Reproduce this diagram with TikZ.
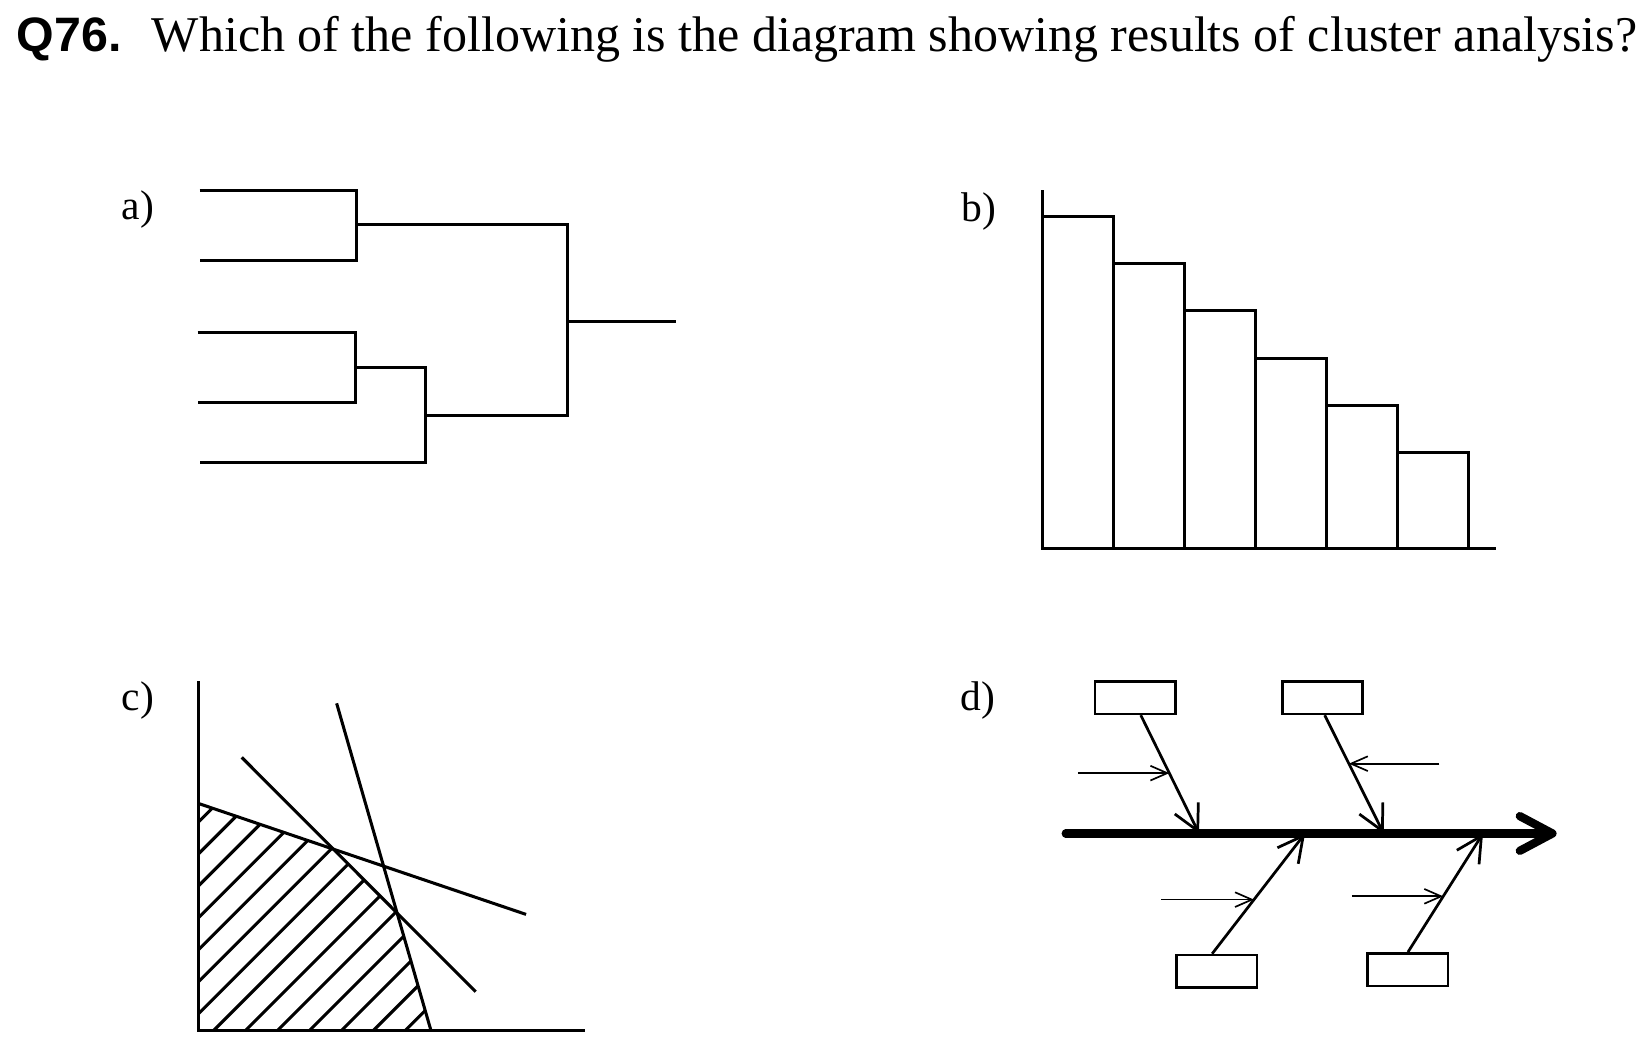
\documentclass[tikz,border=0pt]{standalone}
\usepackage{fontspec}
\setmainfont{Liberation Serif}
\setsansfont{Liberation Sans}
\usetikzlibrary{arrows.meta,calc}
\tikzset{
  ln/.style={line width=2.9pt},
  box/.style={draw,line width=2.5pt,minimum width=76.5pt,minimum height=31pt,inner sep=0pt},
  bone/.style={line width=2.6pt,-{Straight Barb[length=24pt,width=25pt]}},
  twig/.style={line width=1.6pt,-{Straight Barb[length=16pt,width=14pt]}},
  spine/.style={line width=7.9pt,line cap=round,-{Straight Barb[length=31pt,width=33pt,round]}},
  lbl/.style={anchor=base west,inner sep=0pt,font=\fontsize{39.5}{44}\selectfont},
}

\begin{document}
\begin{tikzpicture}[x=1pt,y=-1pt]
  \useasboundingbox (0,0) rectangle (1568,998);
  \node[anchor=base west,inner sep=0pt,font=\fontsize{46}{50}\selectfont\sffamily\bfseries] (qnum) at (15.9,49.2) {Q76.};
  \node[anchor=base west,inner sep=0pt,font=\fontsize{47.6}{50}\selectfont] (qtext) at (144.3,49.2) {Which of the following is the diagram showing results of cluster analysis?};

  \node[lbl] (la) at (115.8,209.3) {a)};
  \node[lbl] (lb) at (915,211) {b)};
  \node[lbl] (lc) at (115.8,675.6) {c)};
  \node[lbl] (ld) at (914,675.6) {d)};

  \draw[ln] (190,181) -| (339,248) -- (190,248);
  \draw[ln] (188,316) -| (338,383) -- (188,383);
  \draw[ln] (338,350) -| (405,440) -- (190,440);
  \draw[ln] (339,214) -| (540,395) -- (405,395);
  \draw[ln] (540,306) -- (643,306);

  \draw[ln] (992,181) -- (992,522) -- (1423,522);
  \foreach \i in {0,...,5}
    \draw[ln] ({992+67.6*\i},522) rectangle ({992+67.6*(\i+1)},{206+44.9*\i});

  \coordinate (o) at (188.7,980.7);
  \coordinate (l1a) at (188.7,764.4);
  \coordinate (l1b) at (500.5,870);
  \coordinate (l2a) at (230,720.6);
  \coordinate (l2b) at (452.6,943.6);
  \coordinate (l3a) at (320.3,669.2);
  \coordinate (l3b) at (410.1,980.7);
  \coordinate (p12) at (intersection of l1a--l1b and l2a--l2b);
  \coordinate (p23) at (intersection of l2a--l2b and l3a--l3b);
  \begin{scope}
    \clip (o) -- (l1a) -- (p12) -- (p23) -- (l3b) -- cycle;
    \foreach \k in {-8,...,8}
      \draw[ln] ({1183.7+30.4*\k-1000},1000) -- ({1183.7+30.4*\k-700},700);
  \end{scope}
  \draw[ln] (188.7,648) -- (o) -- (556.6,980.7);
  \draw[ln] (l1a) -- (l1b);
  \draw[ln] (l2a) -- (l2b);
  \draw[ln] (l3a) -- (l3b);

  \node[box] (c1) at (1080,663.7) {};
  \node[box] (c2) at (1258.2,663.7) {};
  \node[box] (c3) at (1157.8,924.2) {};
  \node[box] (c4) at (1339.4,922.6) {};
  \coordinate (tail) at (1014,793);
  \coordinate (head) at (1481,793);
  \coordinate (s1) at (1140.8,793);
  \coordinate (s2) at (1316.5,793);
  \coordinate (s3) at (1241.7,793);
  \coordinate (s4) at (1411,793);
  \coordinate (t1) at ($(c1.south)+(5.4,0)$);
  \coordinate (t2) at ($(c2.south)+(2.2,0)$);
  \coordinate (t3) at ($(c3.north)+(-4.5,0)$);
  \coordinate (t4) at ($(c4.north)+(0.2,0)$);
  \draw[spine] (tail) -- (head);
  \draw[bone] (t1) -- (s1);
  \draw[bone] (t2) -- (s2);
  \draw[bone] (t3) -- (s3);
  \draw[bone] (t4) -- (s4);
  \coordinate (m1) at ($(t1)!0.49!(s1)$);
  \coordinate (m2) at ($(t2)!0.41!(s2)$);
  \coordinate (m3) at ($(t3)!0.45!(s3)$);
  \coordinate (m4) at ($(t4)!0.47!(s4)$);
  \coordinate (f1) at ($(m1)+(-87,0)$);
  \coordinate (f2) at ($(m2)+(86,0)$);
  \coordinate (f3) at ($(m3)+(-88,0)$);
  \coordinate (f4) at ($(m4)+(-87,0)$);
  \draw[twig] (f1) -- (m1);
  \draw[twig] (f2) -- (m2);
  \draw[twig] (f3) -- (m3);
  \draw[twig] (f4) -- (m4);
\end{tikzpicture}
\end{document}
